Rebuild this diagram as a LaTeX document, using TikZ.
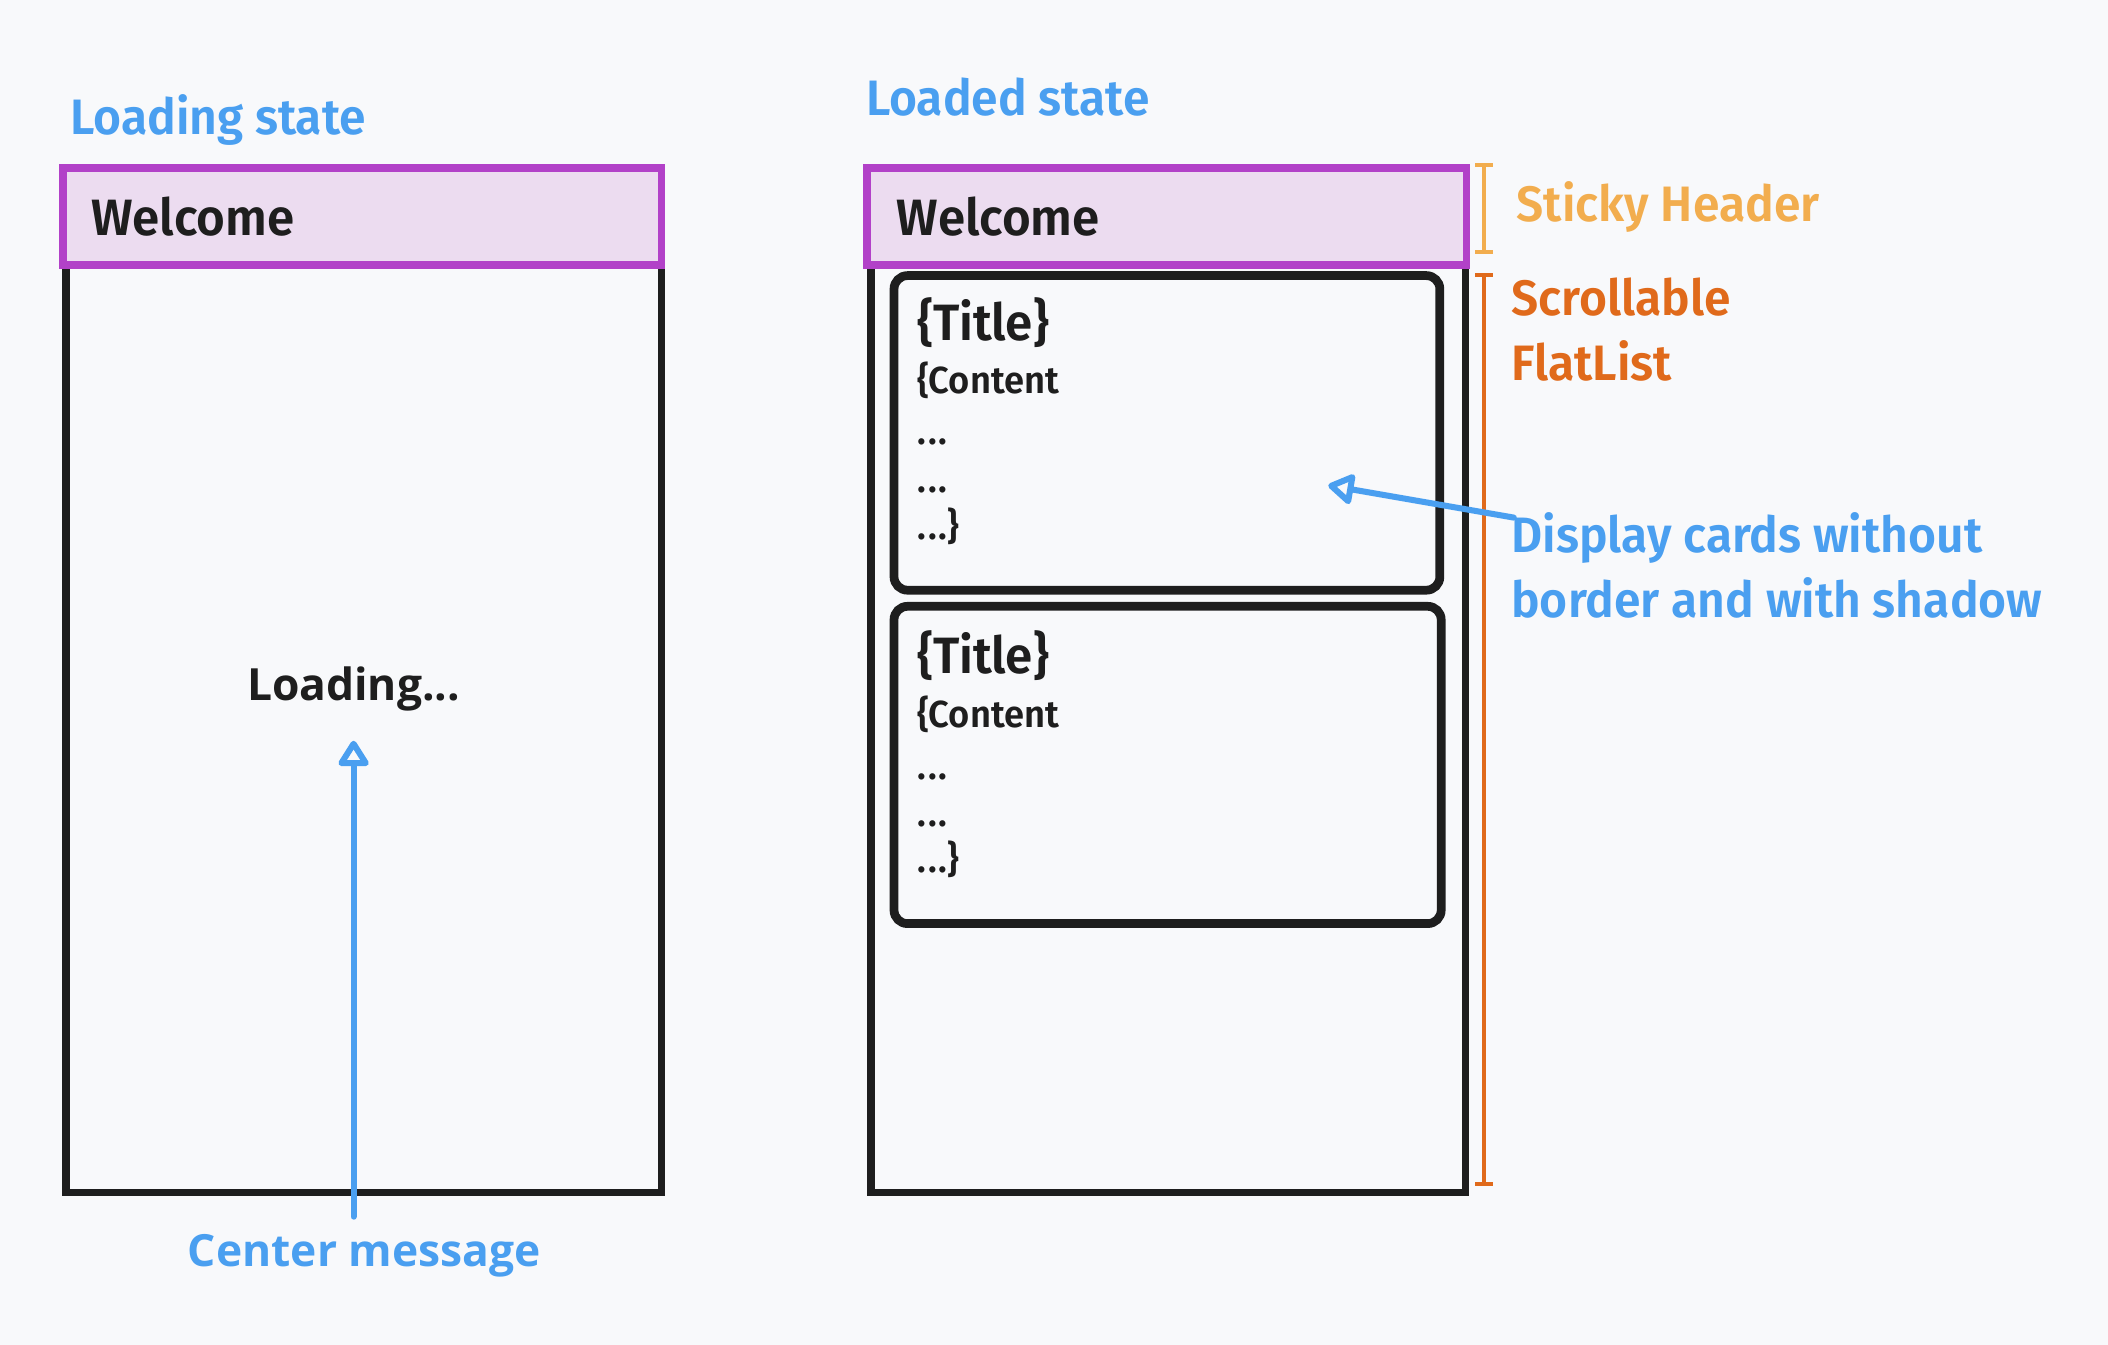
\documentclass[tikz,border=0pt]{standalone}
\usepackage{fontspec}
\setmainfont{Fira Sans}[UprightFont=* SemiBold, BoldFont=* Bold, FakeStretch=0.965]
\newfontfamily\widefont{Open Sans}
\usetikzlibrary{arrows.meta}
\definecolor{bgc}{HTML}{F8F9FB}
\definecolor{lblue}{HTML}{4A9FF0}
\definecolor{pborder}{HTML}{B241C8}
\definecolor{pfill}{HTML}{ECDCF0}
\definecolor{dark}{HTML}{1E1E1E}
\definecolor{lorange}{HTML}{F2AD4E}
\definecolor{dorange}{HTML}{E06A1B}
\newcommand{\tdots}{.\kern1.6pt.\kern1.6pt.}
\tikzset{
  lbl/.style={inner sep=0pt, font=\fontsize{37}{40}\selectfont, text=lblue},
  hdr/.style={draw=pborder, fill=pfill, line width=5.5pt},
  body/.style={draw=dark, line width=5.5pt},
  cardbox/.style={draw=dark, line width=6.5pt, rounded corners=10pt},
  title/.style={inner sep=0pt, anchor=base west, font=\fontsize{38}{40}\selectfont, text=dark},
  ctext/.style={inner sep=0pt, anchor=base west, font=\fontsize{28}{30}\selectfont, text=dark},
  bluearrow/.style={draw=lblue, line width=4.5pt, line cap=round, line join=round, -{Triangle[open, length=21pt, width=25pt, line width=4.5pt, round]}},
  brk/.style={line width=3pt, {Bar[width=13pt, line width=3pt]}-{Bar[width=13pt, line width=3pt]}}
}
\begin{document}
\begin{tikzpicture}[x=1pt, y=-1pt]
\fill[bgc] (0,0) rectangle (1568,1000.45);
\useasboundingbox (0,0) rectangle (1568,1000.45);

% ---------- left: loading state
\node[lbl, anchor=base west] (lsl) at (52,100) {Loading state};
\draw[body] (49,197) rectangle (492,887);
\draw[hdr] (47,125) rectangle (492,197);
\node[title] (w1) at (68,175) {Welcome};
\node[inner sep=0pt, anchor=base, font=\widefont\bfseries\fontsize{33}{36}\selectfont, text=dark] (loading) at (263,521) {Loading...};
\node[inner sep=0pt, anchor=base, font=\widefont\bfseries\fontsize{33}{36}\selectfont, text=lblue] (cm) at (271,942) {Center message};
\coordinate (cmtop) at (263,905);
\coordinate (loadtip) at (263,551);
\draw[bluearrow] (cmtop) -- (loadtip);

% ---------- right: loaded state
\node[lbl, anchor=base west] (ldl) at (644,86) {Loaded state};
\draw[body] (648,197) rectangle (1090,887);
\draw[hdr] (645,125) rectangle (1091,197);
\node[title] (w2) at (667,175) {Welcome};

\draw[cardbox] (665,205) rectangle (1071,439);
\node[title] (t1) at (682,253) {\{Title\}};
\node[ctext] (c1) at (682,293) {\{Content};
\node[ctext] (d1a) at (682,331) {\tdots};
\node[ctext] (d1b) at (682,366) {\tdots};
\node[ctext] (d1c) at (682,401) {\tdots\}};

\draw[cardbox] (665,451) rectangle (1072,687);
\node[title] (t2) at (682,501) {\{Title\}};
\node[ctext] (c2) at (682,541) {\{Content};
\node[ctext] (d2a) at (682,580) {\tdots};
\node[ctext] (d2b) at (682,615) {\tdots};
\node[ctext] (d2c) at (682,649) {\tdots\}};

% brackets
\coordinate (sh1) at (1104,121);
\coordinate (sh2) at (1104,189);
\draw[brk, draw=lorange] (sh1) -- (sh2);
\coordinate (sc1) at (1104,203);
\coordinate (sc2) at (1104,882);
\draw[brk, draw=dorange] (sc1) -- (sc2);

\node[lbl, anchor=base west, text=lorange] (sticky) at (1128,165) {Sticky Header};
\node[lbl, anchor=base west, text=dorange] (scroll) at (1124,235) {Scrollable};
\node[lbl, anchor=base west, text=dorange] (flat) at (1124,283) {FlatList};

\node[lbl, anchor=base west] (disp1) at (1124,411) {Display cards without};
\node[lbl, anchor=base west] (disp2) at (1124,459) {border and with shadow};
\coordinate (dstart) at (1126,385);
\coordinate (dtip) at (988,361);
\draw[bluearrow] (dstart) -- (dtip);
\end{tikzpicture}
\end{document}
